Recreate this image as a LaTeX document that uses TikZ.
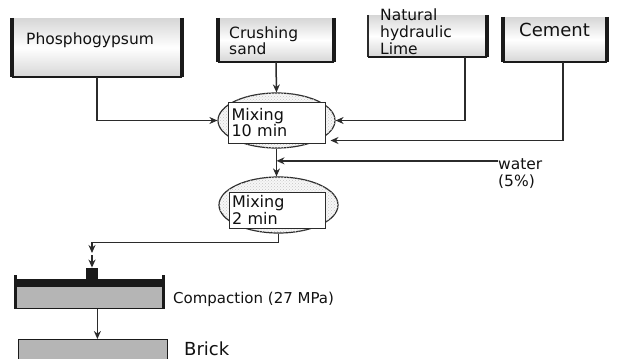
\documentclass[tikz,border=0pt]{standalone}
\usepackage{fontspec}
\setmainfont{DejaVu Sans}
\usepackage{xcolor}
\definecolor{wallDark}{HTML}{1A1A1A}
\definecolor{lineDark}{HTML}{2B2B2B}
\definecolor{textDark}{HTML}{111111}
\definecolor{binShade}{HTML}{D6D6D6}
\definecolor{pressGray}{HTML}{B5B5B5}
\usepackage{tikz}
\usetikzlibrary{shapes.geometric, arrows.meta, patterns, positioning, calc}
\newcommand{\binWalls}[1]{%
    \draw[binSide] (#1.north west) -- (#1.south west);
    \draw[binSide] (#1.north east) -- (#1.south east);
    \draw[binBottom] (#1.south west) -- (#1.south east);
}

\begin{document}
\begin{tikzpicture}[
    x=1pt, y=-1pt,
    >=Stealth,
    binBox/.style={
        rectangle,
        inner sep=0pt,
        top color=binShade,
        bottom color=binShade,
        middle color=white
    },
    binLabel/.style={
        inner sep=0pt,
        anchor=west,
        align=left,
        text=textDark,
        font=\fontsize{15.5}{17}\selectfont
    },
    binSide/.style={line width=3.5pt, draw=wallDark},
    binBottom/.style={line width=2.2pt, draw=wallDark},
    mixOval/.style={
        ellipse,
        draw=lineDark,
        line width=1.2pt,
        fill=gray!6,
        postaction={pattern=crosshatch dots, pattern color=gray!45}
    },
    mixBox/.style={
        rectangle,
        draw=lineDark,
        line width=1pt,
        fill=white,
        inner sep=2pt,
        text width=90pt,
        align=left,
        text=textDark,
        font=\fontsize{16}{14}\selectfont
    },
    pressBody/.style={
        rectangle,
        inner sep=0pt,
        fill=pressGray,
        draw=wallDark,
        line width=0.8pt
    },
    flowLine/.style={line width=1.5pt, draw=lineDark},
    flowArrow/.style={flowLine, -{Stealth[length=8pt, width=7pt]}}
]
\useasboundingbox (0,0) rectangle (622,359);

% Raw material bins
\node[binBox, minimum width=170, minimum height=59] (phospho) at (97,47.5) {};
\binWalls{phospho}
\node[binLabel] (phosphoText) at (26,40) {Phosphogypsum};

\node[binBox, minimum width=116, minimum height=44] (sand) at (276,40) {};
\binWalls{sand}
\node[binLabel, font=\fontsize{15.5}{15}\selectfont] (sandText) at (229,40.5) {Crushing\\sand};

\node[binBox, minimum width=119, minimum height=42] (lime) at (427.5,36) {};
\draw[flowLine] (lime.north west) -- (lime.south west);
\draw[binSide] (lime.north east) -- (lime.south east);
\draw[binBottom, line width=1.6pt] (lime.south west) -- (lime.south east);
\node[binLabel] (limeText) at (380,32) {Natural\\hydraulic\\Lime};

\node[binBox, minimum width=104, minimum height=45] (cement) at (555,39.5) {};
\binWalls{cement}
\node[binLabel, font=\fontsize{18}{20}\selectfont] (cementText) at (519,30) {Cement};

% Mixing steps
\node[mixOval, minimum width=117, minimum height=55] (mixA) at (276.5,120.5) {};
\node[mixBox, minimum width=97, minimum height=41] (mixAbox) at (276.5,122.5) {Mixing\\10 min};

\node[mixOval, minimum width=119, minimum height=56] (mixB) at (278.5,205) {};
\node[mixBox, minimum width=96, minimum height=36] (mixBbox) at (277,210) {Mixing\\2 min};

\node[binLabel] (water) at (498,174) {water\\(5\%)};

% Feed lines
\draw[flowArrow] (sand.south) -- (mixA.north);
\draw[flowArrow] (phospho.south) |- (mixA.west);
\draw[flowArrow] ([xshift=37.5pt]lime.south) |- (mixA.east);
\draw[flowArrow] ([xshift=8pt]cement.south) |- ([xshift=5pt,yshift=3pt]mixAbox.south east);
\draw[flowArrow] (mixA.south) -- (mixA.south |- mixB.north);
\draw[flowArrow] ([yshift=-2pt]water.north west) -- ([yshift=-2pt]water.north west -| mixA.south);

% Compaction press
\node[pressBody, minimum width=148, minimum height=29, anchor=north west] (press) at (15,279) {};
\fill[wallDark] (press.north west) rectangle ([yshift=-8pt]press.north east);
\draw[binSide, line width=3pt] ([yshift=4pt]press.north west) -- (press.south west);
\draw[binSide, line width=3pt] ([yshift=4pt]press.north east) -- (press.south east);
\node[rectangle, fill=wallDark, minimum width=12, minimum height=12, inner sep=0pt, anchor=south] (plunger) at (92,280) {};
\node[binLabel, font=\fontsize{15}{17}\selectfont] (pressText) at (173,299) {Compaction (27 MPa)};

\coordinate (feedEnd) at (92,253);
\draw[flowArrow] (mixB.south) -- ++(0,9) -| (feedEnd);
\draw[flowArrow] ([yshift=-2pt]feedEnd) -- (plunger.north);

% Brick
\node[pressBody, minimum width=149, minimum height=24, anchor=north west] (brick) at (18,339) {};
\node[binLabel, font=\fontsize{18}{20}\selectfont] (brickText) at (184,349) {Brick};
\draw[flowArrow] ([xshift=8pt]press.south) -- ([xshift=8pt]press.south |- brick.north);

\end{tikzpicture}
\end{document}
